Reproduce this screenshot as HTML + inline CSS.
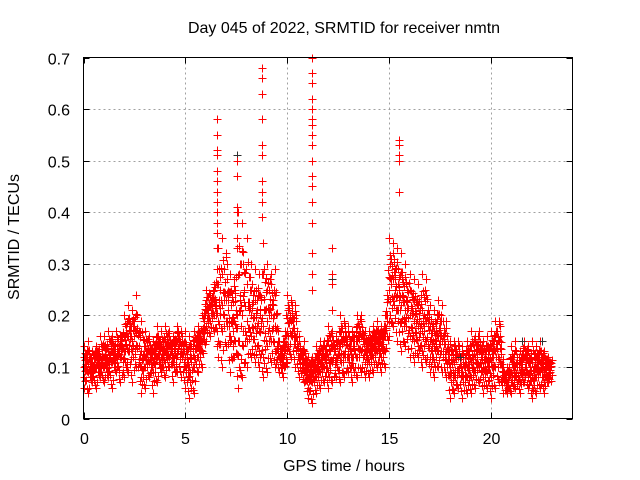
<!DOCTYPE html>
<html><head><meta charset="utf-8"><style>
body{margin:0;background:#fff;}
svg{display:block;font-family:"Liberation Sans",sans-serif;}
</style></head><body>
<svg width="640" height="480" xmlns="http://www.w3.org/2000/svg">
<rect width="640" height="480" fill="#fff"/>
<text x="344" y="33" font-size="16" text-anchor="middle" fill="#000">Day 045 of 2022, SRMTID for receiver nmtn</text>
<text x="344" y="471" font-size="16" text-anchor="middle" fill="#000">GPS time / hours</text>
<text transform="translate(19,237) rotate(-90)" font-size="16" text-anchor="middle" fill="#000">SRMTID / TECUs</text>
<g id="grid"></g>
<g id="ticks"></g>
<g id="marks"></g>
<rect x="83.5" y="57.5" width="489" height="361" fill="none" stroke="#000" stroke-width="1"/>
</svg>
<script>
const xTicks=[0,5,10,15,20];
const yTicks=[0,0.1,0.2,0.3,0.4,0.5,0.6,0.7];
const yTickLabels=["0","0.1","0.2","0.3","0.4","0.5","0.6","0.7"];
const timeStep=0.2;
const s1=[.06,.05,.07,.06,.08,.07,.08,.06,.09,.07,.08,.09,.07,.10,.05,.06,.08,.05,.07,.09,.08,.10,.07,.09,.08,.06,.04,.05,.09,.10,.15,.16,.17,.12,.10,.14,.09,.12,.06,.08,.10,.12,.11,.10,.08,.09,.11,.10,.09,.08,.11,.12,.10,.08,.07,.04,.03,.05,.06,.07,.06,.07,.08,.07,.08,.09,.07,.08,.09,.08,.08,.09,.10,.09,.10,.16,.18,.15,.13,.14,.12,.11,.12,.10,.11,.09,.08,.10,.09,.08,.04,.05,.06,.04,.05,.05,.06,.07,.05,.06,.04,.06,.07,.05,.05,.05,.06,.05,.07,.06,.04,.05,.06,.05,.07];
const s2=[.08,.09,.08,.10,.09,.10,.09,.11,.10,.12,.11,.13,.12,.14,.08,.10,.11,.09,.12,.10,.11,.12,.10,.13,.12,.09,.07,.10,.12,.13,.18,.19,.20,.15,.17,.18,.12,.15,.10,.14,.15,.16,.14,.13,.12,.14,.15,.13,.11,.10,.14,.16,.13,.10,.09,.06,.07,.08,.09,.10,.09,.11,.10,.11,.12,.11,.10,.12,.13,.11,.11,.12,.13,.12,.13,.20,.22,.19,.17,.18,.16,.15,.14,.13,.15,.12,.11,.13,.12,.10,.07,.08,.09,.07,.08,.08,.09,.10,.08,.09,.08,.10,.11,.07,.06,.07,.08,.07,.09,.08,.06,.08,.09,.07,.08];
const s3=[.10,.11,.09,.12,.10,.12,.11,.13,.12,.14,.13,.16,.15,.17,.10,.12,.13,.11,.14,.12,.13,.14,.12,.15,.14,.12,.10,.12,.14,.15,.21,.22,.23,.19,.22,.23,.16,.19,.15,.20,.19,.20,.18,.17,.18,.19,.20,.18,.12,.12,.17,.19,.16,.12,.11,.08,.09,.10,.11,.12,.12,.14,.12,.14,.15,.13,.12,.15,.16,.13,.13,.14,.15,.14,.16,.25,.27,.24,.22,.21,.20,.19,.18,.17,.19,.15,.14,.16,.15,.13,.10,.11,.12,.09,.10,.11,.12,.13,.10,.11,.11,.13,.15,.08,.07,.09,.10,.09,.12,.11,.08,.10,.11,.09,.10];
const s4=[.12,.13,.11,.13,.12,.14,.13,.15,.14,.16,.16,.19,.18,.20,.13,.14,.15,.13,.16,.14,.15,.16,.14,.17,.16,.14,.13,.15,.16,.17,.23,.24,.25,.26,.28,.30,.22,.25,.28,.30,.26,.25,.23,.24,.28,.25,.26,.24,.13,.14,.21,.22,.20,.14,.13,.10,.11,.12,.13,.14,.15,.16,.14,.17,.18,.16,.15,.18,.19,.15,.15,.16,.17,.16,.18,.30,.31,.29,.27,.26,.25,.23,.22,.21,.24,.18,.17,.20,.19,.16,.13,.14,.14,.12,.13,.14,.15,.16,.13,.14,.14,.16,.18,.09,.09,.12,.13,.11,.14,.13,.11,.12,.13,.12,.11];
const s5=[.14,.15,.13,.14,.16,.16,.17,.16,.17,.15,.20,.22,.21,.24,.19,.17,.16,.15,.18,.17,.18,.17,.16,.18,.17,.17,.16,.17,.18,.20,.25,.24,.26,.33,.35,.32,.28,.27,.40,.38,.35,.30,.29,.28,.34,.30,.28,.29,.15,.15,.24,.23,.22,.15,.15,.12,.12,.14,.15,.15,.18,.17,.16,.20,.19,.18,.17,.20,.20,.17,.17,.18,.19,.18,.20,.35,.34,.33,.32,.30,.28,.27,.26,.28,.27,.22,.21,.23,.22,.19,.15,.15,.15,.14,.15,.17,.16,.17,.15,.16,.17,.19,.19,.10,.10,.14,.15,.13,.15,.14,.15,.14,.15,.13,.12];
const spikeT=[6.55,6.55,6.55,6.55,6.55,6.55,6.55,6.55,6.55,6.55,6.55,6.55,7.55,7.55,7.55,7.55,7.55,7.55,8.77,8.77,8.77,8.77,8.77,8.77,8.77,8.77,8.77,8.77,11.22,11.22,11.22,11.22,11.22,11.22,11.22,11.22,11.22,11.22,11.22,11.22,11.22,11.22,11.22,11.22,11.22,12.2,12.2,12.2,12.2,15.5,15.5,15.5,15.5,15.5];
const spikeV=[.58,.55,.52,.51,.48,.46,.44,.42,.40,.38,.36,.33,.50,.47,.41,.40,.38,.35,.68,.66,.63,.58,.53,.51,.46,.44,.42,.39,.70,.67,.65,.62,.60,.58,.57,.55,.53,.50,.47,.45,.42,.38,.32,.28,.25,.33,.28,.26,.21,.54,.53,.51,.50,.44];
const blackT=[6.55,7.55,8.77,8.77,11.22,11.22,12.2,15.5,21.5,22.5,18.5];
const blackV=[.40,.51,.58,.53,.53,.55,.27,.54,.15,.15,.12];

const X0=83.5,X1=572.5,Y0=418.5,Y1=57.5;
const xs=t=>X0+(t/24)*(X1-X0);
const ys=v=>Y0-(v/0.7)*(Y0-Y1);
const NS="http://www.w3.org/2000/svg";
const grid=document.getElementById('grid'),ticks=document.getElementById('ticks'),marks=document.getElementById('marks');
function mk(tag,attrs,parent){const e=document.createElementNS(NS,tag);for(const k in attrs)e.setAttribute(k,attrs[k]);parent.appendChild(e);return e;}
xTicks.forEach(t=>{
  const x=Math.round(xs(t))+0.5;
  if(t>0){const g=mk('line',{x1:x,x2:x,y1:Y1,y2:Y0,stroke:'#a0a0a0','stroke-dasharray':'2,3'},grid);
  
  }
  const a=mk('line',{x1:x,x2:x,y1:Y0,y2:Y0-6,stroke:'#000'},ticks);
  
  
  const b=mk('line',{x1:x,x2:x,y1:Y1,y2:Y1+6,stroke:'#000'},ticks);
  
  
  const l=mk('text',{x:x,y:444,'font-size':16,'text-anchor':'middle'},ticks);l.textContent=String(t);
  
  
});
yTicks.forEach((v,i)=>{
  const y=Math.round(ys(v))+0.5;
  if(v>0&&v<0.7){const g=mk('line',{x1:X0,x2:X1,y1:y,y2:y,stroke:'#a0a0a0','stroke-dasharray':'2,3'},grid);
  
  }
  const a=mk('line',{x1:X0,x2:X0+6,y1:y,y2:y,stroke:'#000'},ticks);
  
  
  const b=mk('line',{x1:X1,x2:X1-6,y1:y,y2:y,stroke:'#000'},ticks);
  
  
  const l=mk('text',{x:70,y:y+6,'font-size':16,'text-anchor':'end'},ticks);l.textContent=yTickLabels[i];
  
  
});
function plus(t,v,color){
  const x=Math.round(xs(t))+0.5,y=Math.round(ys(v))+0.5;
  const p=mk('path',{d:`M${x-4} ${y}h8M${x} ${y-4}v8`,stroke:color,'stroke-width':1,fill:'none'},marks);
  
  
}
const series=[s1,s2,s3,s4,s5];
const offs=[0,0.05,0.1,0.15];
for(let i=0;i<s1.length;i++){
  offs.forEach((o,m)=>{
    series.forEach((arr,k)=>{
      const src=series[(k+m*2)%5];
      const nxt=series[(k+m*3+1)%5];
      const j=Math.min(i+1,src.length-1);
      const f=o/timeStep;
      const v=src[i]*(1-f)+nxt[j]*f;
      plus(i*timeStep+o+(k%2)*0.02,v,'#ff0000');
    });
  });
}
blackT.forEach((t,i)=>plus(t,blackV[i],'#303030'));
spikeT.forEach((t,i)=>plus(t,spikeV[i],'#ff0000'));
</script>
</body></html>
